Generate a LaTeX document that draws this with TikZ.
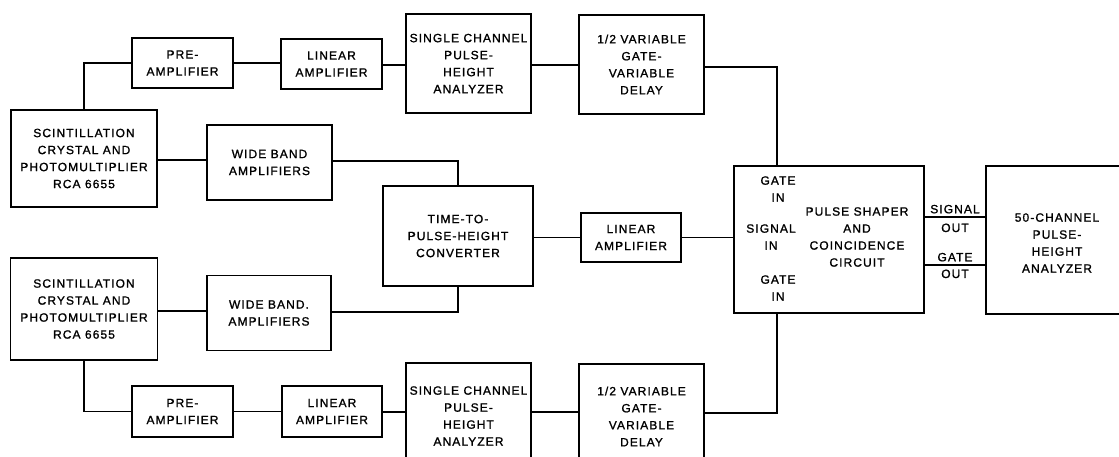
\documentclass[tikz,border=0pt]{standalone}
\usepackage{fontspec}
\setmainfont{Liberation Sans}[LetterSpace=9, FakeBold=1.2]
\usetikzlibrary{calc}
\tikzset{
  blk/.style={draw, line width=1.9pt, inner sep=0pt, align=center},
  txt/.style={inner sep=0pt, align=center},
  wire/.style={line width=1.2pt},
}
\begin{document}
\begin{tikzpicture}[x=1pt,y=-1pt,every node/.style={font=\fontsize{12}{17}\selectfont}]
\clip (0,0) rectangle (1119,457);
\fill[white] (0,0) rectangle (1119,457);
% top branch
\node[blk, minimum width=146pt, minimum height=97pt] (sc1) at (84,158.5) {SCINTILLATION\\CRYSTAL AND\\PHOTOMULTIPLIER\\RCA 6655};
\node[blk, minimum width=101pt, minimum height=50pt] (pa1) at (182.5,63) {PRE-\\AMPLIFIER};
\node[blk, minimum width=101pt, minimum height=50pt] (la1) at (331.5,64) {LINEAR\\AMPLIFIER};
\node[blk, minimum width=125pt, minimum height=99pt] (sp1) at (468.5,63.5) {SINGLE CHANNEL\\PULSE-\\HEIGHT\\ANALYZER};
\node[blk, minimum width=125pt, minimum height=99pt] (vd1) at (641.5,64.5) {1/2 VARIABLE\\GATE-\\VARIABLE\\DELAY};
\node[blk, minimum width=125pt, minimum height=75pt] (wb1) at (269.5,162.5) {WIDE BAND\\AMPLIFIERS};
% middle
\node[blk, minimum width=150pt, minimum height=100pt] (tp) at (458,236) {TIME-TO-\\PULSE-HEIGHT\\CONVERTER};
\node[blk, minimum width=100pt, minimum height=49pt] (la2) at (631,237.5) {LINEAR\\AMPLIFIER};
\node[blk, minimum width=190pt, minimum height=147pt] (psc) at (829,239.5) {};
\node[txt] (psct) at (857,237) {PULSE SHAPER\\AND\\COINCIDENCE\\CIRCUIT};
\node[txt] (gin1) at (778,189) {GATE\\IN};
\node[txt] (sin) at (771,237) {SIGNAL\\IN};
\node[txt] (gin2) at (778,288) {GATE\\IN};
\node[blk, minimum width=174pt, minimum height=148pt] (fc) at (1073,240) {};
\node[txt] (fct) at (1057,243) {50-CHANNEL\\PULSE-\\HEIGHT\\ANALYZER};
% bottom branch
\node[blk, minimum width=147pt, minimum height=102pt] (sc2) at (84,309) {SCINTILLATION\\CRYSTAL AND\\PHOTOMULTIPLIER\\RCA 6655};
\node[blk, minimum width=124pt, minimum height=75pt] (wb2) at (269,313) {WIDE BAND.\\AMPLIFIERS};
\node[blk, minimum width=101pt, minimum height=51pt] (pa2) at (182.5,411.5) {PRE-\\AMPLIFIER};
\node[blk, minimum width=100pt, minimum height=51pt] (lb2) at (332,411.5) {LINEAR\\AMPLIFIER};
\node[blk, minimum width=125pt, minimum height=106pt] (sp2) at (468.5,416) {SINGLE CHANNEL\\PULSE-\\HEIGHT\\ANALYZER};
\node[blk, minimum width=125pt, minimum height=105pt] (vd2) at (641.5,416.5) {1/2 VARIABLE\\GATE-\\VARIABLE\\DELAY};
% coordinates
\path (psc.north west) ++(44,0) coordinate (gi1);
\path (psc.south west) ++(44,0) coordinate (gi2);
% top wires
\draw[wire] (sc1.north) |- (pa1.west);
\draw[wire] (pa1.east) -- (la1.west |- pa1.east);
\draw[wire] (la1.east |- 0,65) -- (sp1.west |- 0,65);
\draw[wire] (sp1.east |- 0,65) -- (vd1.west |- 0,65);
\draw[wire] (vd1.east |- 0,67) -| (gi1);
\draw[wire] (sc1.east |- 0,160) -- (wb1.west |- 0,160);
\draw[wire] (wb1.east |- 0,161) -| (tp.north);
% middle wires
\draw[wire] (tp.east |- la2.west) -- (la2.west);
\draw[wire] (la2.east) -- (psc.west |- la2.east);
\draw[wire] (psc.east |- 0,217) -- node[txt, above=3pt] (so1) {SIGNAL} node[txt, below=6pt] (so2) {OUT} (fc.west |- 0,217);
\draw[wire] (psc.east |- 0,265) -- node[txt, above=3pt] (go1) {GATE} node[txt, below=4pt] (go2) {OUT} (fc.west |- 0,265);
% bottom wires
\draw[wire] (sc2.east |- 0,311) -- (wb2.west |- 0,311);
\draw[wire] (wb2.east |- 0,312) -| (tp.south);
\draw[wire] (sc2.south) |- (pa2.west);
\draw[wire] (pa2.east) -- (lb2.west |- pa2.east);
\draw[wire] (lb2.east |- 0,412) -- (sp2.west |- 0,412);
\draw[wire] (sp2.east |- 0,412) -- (vd2.west |- 0,412);
\draw[wire] (vd2.east |- 0,413) -| (gi2);
\end{tikzpicture}
\end{document}
